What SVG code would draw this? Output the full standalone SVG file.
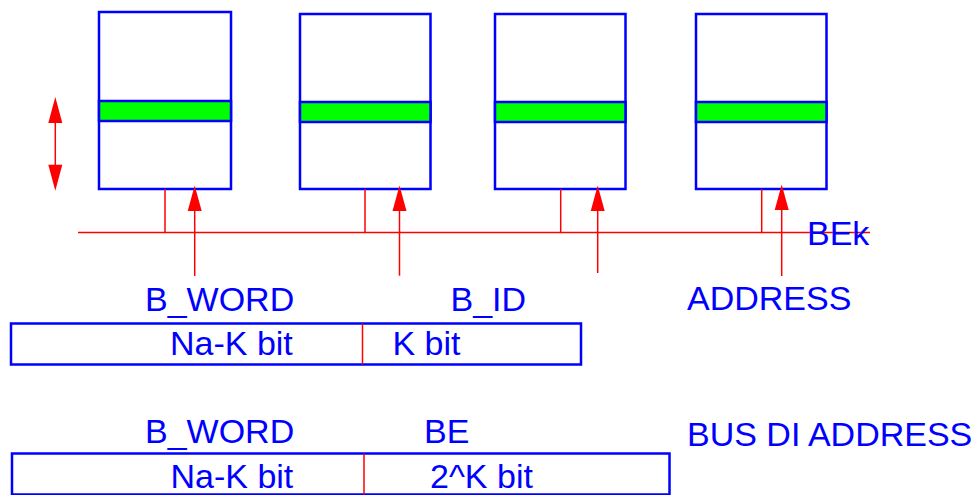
<svg xmlns="http://www.w3.org/2000/svg" width="977" height="495" viewBox="0 0 977 495">
<style>
.box{fill:#fff;stroke:#0000ff;stroke-width:2.5}
.band{fill:#00ff00;stroke:#0000ff;stroke-width:2.5}
.wire{stroke:#ff0000;stroke-width:1.5;fill:none}
.head{fill:#ff0000;stroke:none}
.t{font-family:"Liberation Sans",Arial,sans-serif;font-size:34px;fill:#0000ff}
.field{fill:none;stroke:#0000ff;stroke-width:2.5}
</style>
<rect width="977" height="495" fill="#fff"/>
<g id="bank1"><rect class="box" x="99" y="12" width="132" height="177"/><rect class="band" x="99" y="101" width="132" height="20"/></g>
<g id="bank2"><rect class="box" x="300" y="14" width="130.5" height="175"/><rect class="band" x="300" y="102" width="130.5" height="20"/></g>
<g id="bank3"><rect class="box" x="495" y="14" width="130.5" height="175"/><rect class="band" x="495" y="102" width="130.5" height="20"/></g>
<g id="bank4"><rect class="box" x="696" y="14" width="130.5" height="175"/><rect class="band" x="696" y="102" width="130.5" height="20"/></g>
<g id="connectors">
<line class="wire" x1="78" y1="232.5" x2="870" y2="232.5"/>
<line class="wire" x1="165" y1="189" x2="165" y2="232.5"/>
<line class="wire" x1="365" y1="189" x2="365" y2="232.5"/>
<line class="wire" x1="560.7" y1="189" x2="560.7" y2="232.5"/>
<line class="wire" x1="761.7" y1="189" x2="761.7" y2="232.5"/>
<line class="wire" x1="194.7" y1="200" x2="194.7" y2="276"/>
<polygon class="head" points="194.7,185.5 187.7,211 201.7,211"/>
<line class="wire" x1="399.5" y1="200" x2="399.5" y2="275.7"/>
<polygon class="head" points="399.5,185.5 392.5,211 406.5,211"/>
<line class="wire" x1="597.7" y1="200" x2="597.7" y2="273"/>
<polygon class="head" points="597.7,185.5 590.7,211 604.7,211"/>
<line class="wire" x1="781.7" y1="200" x2="781.7" y2="276"/>
<polygon class="head" points="781.7,184.5 774.7,210 788.7,210"/>
<line class="wire" x1="55.3" y1="115" x2="55.3" y2="175"/>
<polygon class="head" points="55.3,97 48.3,123 62.3,123"/>
<polygon class="head" points="55.3,190.7 48.3,164.7 62.3,164.7"/>
</g>
<text class="t" x="807" y="245">BEk</text>
<text class="t" x="145" y="311">B_WORD</text>
<text class="t" x="450.5" y="311">B_ID</text>
<text class="t" x="687" y="309.5">ADDRESS</text>
<g id="address-format">
<rect class="field" x="11" y="323.5" width="570" height="41"/>
<line class="wire" x1="362.5" y1="323.5" x2="362.5" y2="364.5"/>
<text class="t" x="170" y="355">Na-K bit</text>
<text class="t" x="392.5" y="355">K bit</text>
</g>
<text class="t" x="145" y="442.5">B_WORD</text>
<text class="t" x="424" y="442.5">BE</text>
<text class="t" x="687" y="446">BUS DI ADDRESS</text>
<g id="bus-format">
<rect class="field" x="12" y="453.5" width="657.5" height="41"/>
<line class="wire" x1="364" y1="453.5" x2="364" y2="494.5"/>
<text class="t" x="170.5" y="487.5">Na-K bit</text>
<text class="t" x="430" y="487.5">2^K bit</text>
</g>
</svg>
